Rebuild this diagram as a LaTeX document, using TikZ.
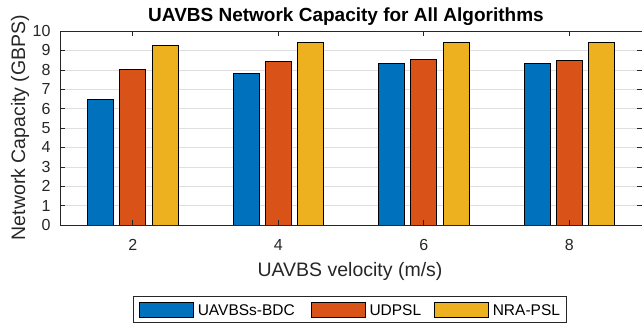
\documentclass[tikz,border=0pt]{standalone}
\usepackage{fontspec}
\setmainfont{Liberation Sans}
\usetikzlibrary{positioning}

\definecolor{blu}{HTML}{0072BD}
\definecolor{arancio}{HTML}{D95319}
\definecolor{giallo}{HTML}{EDB120}
\definecolor{assi}{gray}{0.15}
\definecolor{griglia}{HTML}{DFDFDF}

\begin{document}
\begin{tikzpicture}[x=1pt,y=1pt,
    barra/.style={draw=black, line width=0.8pt},
    tacca/.style={draw=assi, line width=0.6pt},
    numero/.style={text=assi, font=\fontsize{16}{16}\selectfont},
    asse/.style={text=assi, font=\fontsize{19.5}{19.5}\selectfont},
    campione/.style={draw=black, line width=0.6pt, minimum width=54pt, minimum height=15.4pt, inner sep=0pt},
    voce/.style={anchor=west, inner sep=0pt, font=\fontsize{15.5}{15.5}\selectfont}]
    \useasboundingbox (0,0) rectangle (642,325);

    % Titolo
    \node[anchor=base, font=\bfseries\fontsize{19}{19}\selectfont] (titolo) at (346,303.5) {UAVBS Network Capacity for All Algorithms};

    % Etichette degli assi
    \node[asse, anchor=base, rotate=90] (ylab) at (25,197.5) {Network Capacity (GBPS)};
    \node[asse, anchor=base] (xlab) at (350,49) {UAVBS velocity (m/s)};

    % Area del grafico (coordinate dei dati)
    \begin{scope}[shift={(-12.75pt,100pt)}, x=72.75pt, y=19.4pt]
        % Griglia orizzontale
        \foreach \y in {1,...,9} {
            \draw[griglia, line width=0.6pt] (1,\y) -- (9,\y);
        }

        % Barre: velocita / UAVBSs-BDC / UDPSL / NRA-PSL
        \foreach \v/\a/\b/\c in {2/6.49/8.02/9.28, 4/7.80/8.44/9.43, 6/8.35/8.52/9.40, 8/8.32/8.47/9.40} {
            \filldraw[barra, fill=blu] (\v-0.622,0) rectangle (\v-0.266,\a);
            \filldraw[barra, fill=arancio] (\v-0.178,0) rectangle (\v+0.178,\b);
            \filldraw[barra, fill=giallo] (\v+0.266,0) rectangle (\v+0.622,\c);
        }

        % Cornice degli assi
        \draw[tacca] (1,0) rectangle (9,10);

        % Tacche e numeri asse y
        \foreach \y in {0,...,10} {
            \draw[tacca] (1,\y) -- ++(5pt,0);
            \draw[tacca] (9,\y) -- ++(-5pt,0);
            \node[numero, anchor=east, inner sep=0pt] (ny\y) at ([xshift=-9.3pt]1,\y) {\y};
        }

        % Tacche e numeri asse x
        \foreach \x in {2,4,6,8} {
            \draw[tacca] (\x,0) -- ++(0,5pt);
            \draw[tacca] (\x,10) -- ++(0,-5pt);
            \node[numero, anchor=base, inner sep=0pt] (nx\x) at ([yshift=-25.5pt]\x,0) {\x};
        }
    \end{scope}

    % Legenda
    \draw[assi, line width=0.6pt, fill=white] (133.3,2.3) rectangle (566.7,28.3);
    \node[campione, fill=blu] (c1) at (166.3,15) {};
    \node[voce, right=4pt of c1] (v1) {UAVBSs-BDC};
    \node[campione, fill=arancio] (c2) at (338,15) {};
    \node[voce, right=4pt of c2] (v2) {UDPSL};
    \node[campione, fill=giallo] (c3) at (461.3,15) {};
    \node[voce, right=4pt of c3] (v3) {NRA-PSL};

\end{tikzpicture}
\end{document}
